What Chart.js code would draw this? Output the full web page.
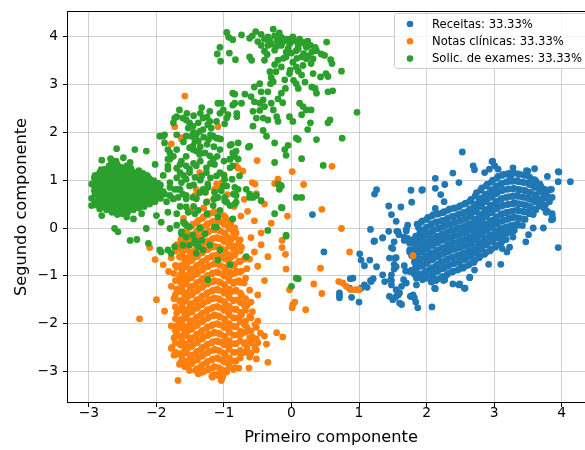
<!DOCTYPE html>
<html><head><meta charset="utf-8">
<script src="https://cdn.jsdelivr.net/npm/chart.js@4.4.1/dist/chart.umd.min.js"></script>
<style>html,body{margin:0;padding:0;background:#fff;overflow:hidden;width:585px;height:450px}canvas{display:block}</style>
</head><body>
<canvas id="c" width="600" height="450" style="width:600px;height:450px"></canvas>
<script>
const categories = ['Receitas: 33.33%', 'Notas clínicas: 33.33%', 'Solic. de exames: 33.33%'];
const seriesColors = ['#1f77b4', '#ff7f0e', '#2ca02c'];
const xTicks = [-3, -2, -1, 0, 1, 2, 3, 4];
const yTicks = [-3, -2, -1, 0, 1, 2, 3, 4];
const xLabel = 'Primeiro componente';
const yLabel = 'Segundo componente';

// Receitas (blue)
const receitas = [
[2.53,1.59],[2.97,1.39],[2.69,1.30],[2.71,1.22],[2.39,1.15],[2.13,1.04],[2.27,0.91],[2.48,0.95],[2.13,0.83],[1.26,0.80],[1.23,0.71],[1.77,0.79],[1.93,0.79],[2.21,0.70],[1.78,0.54],[2.26,0.55],[1.44,0.46],[1.62,0.44],[2.13,0.41],[0.31,0.28],[1.48,0.28],[1.55,0.14],[1.72,0.06],[1.88,0.01],[1.17,-0.03],[1.44,-0.07],[1.56,-0.07],[1.59,-0.14],[1.70,-0.06],[1.35,-0.20],[1.23,-0.27],[1.52,-0.29],[1.48,-0.41],[1.67,-0.26],[1.75,-0.46],[0.48,-0.50],[1.01,-0.54],[1.03,-0.67],[1.16,-0.67],[1.55,-0.62],[1.08,-0.79],[1.26,-0.81],[1.52,-0.76],[1.52,-0.86],[1.67,-0.79],[1.69,-0.90],[1.48,-0.98],[1.48,-1.10],[1.21,-1.06],[1.17,-1.10],[0.91,-1.05],[0.87,-1.06],[1.08,-1.19],[1.03,-1.26],[0.86,-1.26],[0.71,-1.36],[0.71,-1.41],[0.71,-1.46],[0.89,-1.45],[1.00,-1.55],[1.60,-1.36],[1.55,-1.43],[1.50,-1.50],[1.76,-1.43],[1.84,-1.55],[2.08,-1.65],[2.13,-1.27],[2.39,-1.17],[2.49,-1.17],[2.57,-1.26],[2.64,-1.04],[2.08,-1.12],[2.27,-1.08],[2.92,-0.76],[3.10,-0.76],[3.23,-0.40],[3.47,-0.29],[3.51,-0.14],[3.58,0.00],[3.73,0.00],[3.95,-0.41],[4.13,0.97],[3.95,1.18],[3.95,0.97],[3.79,1.08],[3.60,1.24],[3.50,1.19],[3.28,1.26],[3.24,1.06],[3.86,0.30],[3.85,0.17],[3.79,0.35],[3.75,0.81],[3.85,0.81],[3.67,0.88],
[1.22,-0.28],[1.35,-0.21],[1.12,-1.24],[1.18,-1.12],[1.35,-0.98],[1.38,-1.12],[1.47,-1.08],[1.48,-1.19],[1.55,-1.29],[1.53,-1.46],[1.45,-1.43],[1.58,-1.40],[1.63,-1.22],[1.70,-1.15],[1.66,-1.08],[1.80,-1.40],[1.77,-1.43],[1.82,-1.46],[1.85,-1.19],[1.85,-1.05],[1.75,-0.91],[1.82,-0.90],[1.45,-0.63],[1.53,-0.63],[1.55,-0.81],[1.50,-0.43],[1.67,-0.19],[1.72,-0.22],[1.75,-0.32],[1.70,-0.03],[1.58,-0.08],[1.75,-0.50],[1.90,-0.46],[1.87,-1.67],[1.60,-1.57],[1.63,-1.60],
[2.98,1.40],[3.01,1.30],[1.94,0.80],[2.86,1.16],[2.93,1.23],[3.06,1.23],[3.48,1.20],[3.96,1.17],[3.83,0.80],[3.86,0.64],[3.86,0.26],[3.77,0.33],[3.87,0.19],[3.28,-0.19],[2.71,-0.88],[2.64,-1.03],[2.51,-0.81],[2.56,-1.26],[2.48,-1.19],[2.12,-1.26],[2.07,-1.13],[2.25,-1.10],[3.12,-0.43],[3.19,-0.50],
[1.78,-0.25],[1.82,-0.42],[1.78,-0.58],[1.82,-0.71],[1.78,-0.88],[1.82,-0.97],
[1.86,0.08],[1.90,-0.10],[1.86,-0.27],[1.90,-0.40],[1.86,-0.55],[1.90,-0.68],[1.86,-0.83],[1.90,-1.00],
[1.94,0.15],[1.98,-0.02],[1.94,-0.18],[1.98,-0.33],[1.94,-0.47],[1.98,-0.62],[1.94,-0.78],[1.98,-0.92],[1.94,-1.08],
[2.02,0.22],[2.06,0.06],[2.02,-0.12],[2.06,-0.25],[2.02,-0.41],[2.06,-0.55],[2.02,-0.70],[2.06,-0.86],[2.02,-1.02],
[2.10,0.28],[2.14,0.12],[2.10,-0.05],[2.14,-0.20],[2.10,-0.34],[2.14,-0.49],[2.10,-0.64],[2.14,-0.80],[2.10,-0.95],[2.14,-1.10],
[2.18,0.30],[2.22,0.15],[2.18,0.00],[2.22,-0.15],[2.18,-0.28],[2.22,-0.43],[2.18,-0.58],[2.22,-0.72],[2.18,-0.88],[2.22,-1.04],
[2.26,0.34],[2.30,0.18],[2.26,0.04],[2.30,-0.10],[2.26,-0.24],[2.30,-0.39],[2.26,-0.52],[2.30,-0.67],[2.26,-0.83],[2.30,-0.98],
[2.34,0.40],[2.38,0.24],[2.34,0.08],[2.38,-0.06],[2.34,-0.20],[2.38,-0.33],[2.34,-0.47],[2.38,-0.62],[2.34,-0.77],[2.38,-0.92],
[2.42,0.42],[2.46,0.27],[2.42,0.12],[2.46,-0.02],[2.42,-0.16],[2.46,-0.30],[2.42,-0.44],[2.46,-0.58],[2.42,-0.73],[2.46,-0.88],
[2.50,0.47],[2.54,0.31],[2.50,0.16],[2.54,0.02],[2.50,-0.12],[2.54,-0.26],[2.50,-0.40],[2.54,-0.54],[2.50,-0.68],[2.54,-0.84],
[2.58,0.52],[2.62,0.36],[2.58,0.20],[2.62,0.06],[2.58,-0.08],[2.62,-0.22],[2.58,-0.36],[2.62,-0.50],[2.58,-0.64],[2.62,-0.78],
[2.66,0.60],[2.70,0.44],[2.66,0.28],[2.70,0.12],[2.66,-0.03],[2.70,-0.17],[2.66,-0.31],[2.70,-0.45],[2.66,-0.59],[2.70,-0.72],
[2.74,0.74],[2.78,0.57],[2.74,0.40],[2.78,0.24],[2.74,0.08],[2.78,-0.06],[2.74,-0.20],[2.78,-0.34],[2.74,-0.48],[2.78,-0.62],
[2.82,0.84],[2.86,0.67],[2.82,0.50],[2.86,0.34],[2.82,0.18],[2.86,0.03],[2.82,-0.11],[2.86,-0.25],[2.82,-0.40],[2.86,-0.55],
[2.90,0.92],[2.94,0.76],[2.90,0.60],[2.94,0.44],[2.90,0.28],[2.94,0.12],[2.90,-0.03],[2.94,-0.18],[2.90,-0.33],[2.94,-0.48],
[2.98,1.00],[3.02,0.84],[2.98,0.68],[3.02,0.52],[2.98,0.36],[3.02,0.20],[2.98,0.05],[3.02,-0.10],[2.98,-0.25],[3.02,-0.40],
[3.06,1.08],[3.10,0.92],[3.06,0.76],[3.10,0.60],[3.06,0.44],[3.10,0.28],[3.06,0.12],[3.10,-0.03],[3.06,-0.18],[3.10,-0.32],
[3.14,1.12],[3.18,0.96],[3.14,0.80],[3.18,0.64],[3.14,0.48],[3.18,0.32],[3.14,0.17],[3.18,0.02],[3.14,-0.12],[3.18,-0.24],
[3.22,1.14],[3.26,0.98],[3.22,0.82],[3.26,0.66],[3.22,0.50],[3.26,0.35],[3.22,0.20],[3.26,0.05],[3.22,-0.08],
[3.30,1.15],[3.34,0.99],[3.30,0.83],[3.34,0.68],[3.30,0.53],[3.34,0.38],[3.30,0.23],[3.34,0.08],[3.30,-0.05],
[3.38,1.12],[3.42,0.96],[3.38,0.80],[3.42,0.65],[3.38,0.50],[3.42,0.35],[3.38,0.20],[3.42,0.05],
[3.46,1.10],[3.50,0.94],[3.46,0.78],[3.50,0.63],[3.46,0.48],[3.50,0.33],[3.46,0.18],
[3.54,1.04],[3.58,0.88],[3.54,0.73],[3.58,0.58],[3.54,0.43],[3.58,0.28],
[3.62,0.98],[3.66,0.82],[3.62,0.67],[3.66,0.52],[3.62,0.38],
[3.70,0.86],[3.74,0.71],[3.70,0.56],[3.74,0.42],
[3.78,0.70],[3.82,0.55],
[1.84,-0.17],[1.84,-0.34],[1.84,-0.50],[1.84,-0.64],[1.84,-0.79],[1.84,-0.93],
[1.92,0.12],[1.92,-0.06],[1.92,-0.22],[1.92,-0.36],[1.92,-0.51],[1.92,-0.65],[1.92,-0.80],[1.92,-0.96],[1.92,-1.04],
[2.00,0.18],[2.00,0.02],[2.00,-0.15],[2.00,-0.29],[2.00,-0.44],[2.00,-0.58],[2.00,-0.74],[2.00,-0.89],[2.00,-1.05],
[2.08,0.25],[2.08,0.09],[2.08,-0.08],[2.08,-0.22],[2.08,-0.37],[2.08,-0.52],[2.08,-0.67],[2.08,-0.83],[2.08,-0.98],[2.08,-1.07],
[2.16,0.29],[2.16,0.13],[2.16,-0.02],[2.16,-0.17],[2.16,-0.31],[2.16,-0.46],[2.16,-0.61],[2.16,-0.76],[2.16,-0.91],[2.16,-1.07],
[2.24,0.32],[2.24,0.16],[2.24,0.02],[2.24,-0.12],[2.24,-0.26],[2.24,-0.41],[2.24,-0.55],[2.24,-0.70],[2.24,-0.85],[2.24,-1.01],
[2.32,0.37],[2.32,0.21],[2.32,0.06],[2.32,-0.08],[2.32,-0.22],[2.32,-0.36],[2.32,-0.50],[2.32,-0.64],[2.32,-0.80],[2.32,-0.95],
[2.40,0.41],[2.40,0.25],[2.40,0.10],[2.40,-0.04],[2.40,-0.18],[2.40,-0.31],[2.40,-0.45],[2.40,-0.60],[2.40,-0.75],[2.40,-0.90],
[2.48,0.44],[2.48,0.29],[2.48,0.14],[2.48,0.00],[2.48,-0.14],[2.48,-0.28],[2.48,-0.42],[2.48,-0.56],[2.48,-0.70],[2.48,-0.86],
[2.56,0.50],[2.56,0.33],[2.56,0.18],[2.56,0.04],[2.56,-0.10],[2.56,-0.24],[2.56,-0.38],[2.56,-0.52],[2.56,-0.66],[2.56,-0.81],
[2.64,0.56],[2.64,0.40],[2.64,0.24],[2.64,0.09],[2.64,-0.05],[2.64,-0.19],[2.64,-0.33],[2.64,-0.47],[2.64,-0.61],[2.64,-0.75],
[2.72,0.67],[2.72,0.50],[2.72,0.34],[2.72,0.18],[2.72,0.03],[2.72,-0.11],[2.72,-0.25],[2.72,-0.39],[2.72,-0.53],[2.72,-0.67],
[2.80,0.79],[2.80,0.62],[2.80,0.45],[2.80,0.29],[2.80,0.13],[2.80,-0.01],[2.80,-0.15],[2.80,-0.29],[2.80,-0.44],[2.80,-0.58],
[2.88,0.88],[2.88,0.71],[2.88,0.55],[2.88,0.39],[2.88,0.23],[2.88,0.08],[2.88,-0.07],[2.88,-0.21],[2.88,-0.36],[2.88,-0.51],
[2.96,0.96],[2.96,0.80],[2.96,0.64],[2.96,0.48],[2.96,0.32],[2.96,0.16],[2.96,0.01],[2.96,-0.14],[2.96,-0.29],[2.96,-0.44],
[3.04,1.04],[3.04,0.88],[3.04,0.72],[3.04,0.56],[3.04,0.40],[3.04,0.24],[3.04,0.08],[3.04,-0.06],[3.04,-0.21],[3.04,-0.36],
[3.12,1.10],[3.12,0.94],[3.12,0.78],[3.12,0.62],[3.12,0.46],[3.12,0.30],[3.12,0.14],[3.12,-0.01],[3.12,-0.15],[3.12,-0.28],
[3.20,1.13],[3.20,0.97],[3.20,0.81],[3.20,0.65],[3.20,0.49],[3.20,0.33],[3.20,0.18],[3.20,0.03],[3.20,-0.10],
[3.28,1.14],[3.28,0.98],[3.28,0.82],[3.28,0.67],[3.28,0.51],[3.28,0.36],[3.28,0.21],[3.28,0.06],[3.28,-0.06],
[3.36,1.13],[3.36,0.97],[3.36,0.81],[3.36,0.66],[3.36,0.51],[3.36,0.36],[3.36,0.21],[3.36,0.06],
[3.44,1.11],[3.44,0.95],[3.44,0.79],[3.44,0.64],[3.44,0.49],[3.44,0.34],[3.44,0.19],
[3.52,1.07],[3.52,0.91],[3.52,0.75],[3.52,0.60],[3.52,0.45],[3.52,0.30],
[3.60,1.01],[3.60,0.85],[3.60,0.70],[3.60,0.55],[3.60,0.40],
[3.68,0.92],[3.68,0.76],[3.68,0.61],[3.68,0.46],
[3.76,0.78],[3.76,0.63],[3.76,0.48]
];

// Notas clínicas (orange)
const notasClinicas = [
[-1.58,2.76],[-1.78,1.76],[-1.73,2.12],[-1.09,2.12],[-1.62,1.89],[-0.51,1.41],[0.01,1.18],[0.60,1.29],[0.18,0.91],[-0.20,1.02],[-0.25,0.93],[-0.58,0.95],[-0.54,0.92],[-0.52,0.72],[-0.82,1.30],[-0.79,1.25],[-0.72,1.19],[-1.00,1.11],[-1.11,0.92],[-1.06,0.85],[-1.14,0.81],[-1.36,1.16],[-1.41,0.81],[-1.43,0.68],[-1.63,1.86],[-1.03,0.95],[-1.27,0.75],[-1.41,0.64],[0.45,0.39],[0.74,-0.01],[0.86,-0.50],[0.43,-0.84],[0.33,-1.17],[0.45,-1.37],[0.70,-1.12],[0.76,-1.15],[0.81,-1.22],[0.88,-1.29],[0.95,-1.29],[1.00,-1.29],[1.80,-0.58],[-0.06,0.25],[-0.14,-0.26],[-0.14,-0.41],[-0.09,-0.55],[-0.08,-0.86],[-0.03,-1.29],[0.05,-1.55],[0.02,-1.60],[0.01,-1.67],[0.21,-1.71],[-2.10,-0.41],[-2.02,-0.66],[-1.90,-0.77],[-1.82,-0.91],[-1.68,-3.19],[-1.04,-3.19],[-1.06,-3.08],[-0.96,-3.01],[-1.17,-3.12],[-1.51,-2.98],[-1.36,-2.94],[-0.78,-2.93],[-0.63,-2.93],[-0.35,-2.81],[-0.22,-2.19],[-0.13,-2.28],[-0.40,-2.26],[-0.52,-2.74],[-0.37,-2.43],[-1.73,-2.29],[-1.77,-2.50],[-1.70,-2.64],[-1.70,-2.05],[-2.25,-1.90],[-2.00,-1.50],[-1.88,-1.74],
[-1.25,0.55],[-1.15,0.62],[-0.95,0.70],[-0.85,0.45],[-0.70,0.60],[-0.65,0.35],[-0.55,0.15],[-0.75,0.25],[-1.30,0.42],[-1.50,0.35],[-1.60,0.20],[-0.45,-0.10],[-0.60,-0.20],[-0.55,-0.50],[-0.50,-0.80],[-0.45,-0.35],[-0.62,-0.65],[-0.40,-1.10],[-0.50,-1.40],[-0.35,-0.60],[-0.30,0.10],[-0.40,0.50],
[-1.78,-0.62],[-1.74,-0.95],[-1.78,-1.22],[-1.74,-1.48],[-1.78,-2.05],[-1.74,-2.30],[-1.78,-2.52],[-1.74,-2.66],
[-1.70,-0.35],[-1.66,-0.60],[-1.70,-0.82],[-1.66,-1.05],[-1.70,-1.28],[-1.66,-1.52],[-1.70,-1.78],[-1.66,-1.98],[-1.70,-2.20],[-1.66,-2.42],[-1.70,-2.62],[-1.66,-2.85],
[-1.62,-0.15],[-1.58,-0.34],[-1.62,-0.52],[-1.58,-0.70],[-1.62,-0.88],[-1.58,-1.06],[-1.62,-1.24],[-1.58,-1.42],[-1.62,-1.62],[-1.58,-1.82],[-1.62,-2.00],[-1.58,-2.18],[-1.62,-2.36],[-1.58,-2.54],[-1.62,-2.72],[-1.58,-2.90],
[-1.54,0.00],[-1.50,-0.18],[-1.54,-0.36],[-1.50,-0.54],[-1.54,-0.72],[-1.50,-0.90],[-1.54,-1.08],[-1.50,-1.26],[-1.54,-1.44],[-1.50,-1.62],[-1.54,-1.80],[-1.50,-1.98],[-1.54,-2.16],[-1.50,-2.34],[-1.54,-2.52],[-1.50,-2.70],[-1.54,-2.88],
[-1.46,0.08],[-1.42,-0.10],[-1.46,-0.28],[-1.42,-0.46],[-1.46,-0.64],[-1.42,-0.82],[-1.46,-1.00],[-1.42,-1.18],[-1.46,-1.36],[-1.42,-1.54],[-1.46,-1.72],[-1.42,-1.90],[-1.46,-2.08],[-1.42,-2.26],[-1.46,-2.44],[-1.42,-2.62],[-1.46,-2.80],[-1.42,-2.98],
[-1.38,0.16],[-1.34,-0.02],[-1.38,-0.20],[-1.34,-0.38],[-1.38,-0.56],[-1.34,-0.74],[-1.38,-0.92],[-1.34,-1.10],[-1.38,-1.28],[-1.34,-1.46],[-1.38,-1.64],[-1.34,-1.82],[-1.38,-2.00],[-1.34,-2.18],[-1.38,-2.36],[-1.34,-2.54],[-1.38,-2.72],[-1.34,-2.90],[-1.38,-3.05],
[-1.30,0.24],[-1.26,0.06],[-1.30,-0.12],[-1.26,-0.30],[-1.30,-0.48],[-1.26,-0.66],[-1.30,-0.84],[-1.26,-1.02],[-1.30,-1.20],[-1.26,-1.38],[-1.30,-1.56],[-1.26,-1.74],[-1.30,-1.92],[-1.26,-2.10],[-1.30,-2.28],[-1.26,-2.46],[-1.30,-2.64],[-1.26,-2.82],[-1.30,-3.00],
[-1.22,0.30],[-1.18,0.12],[-1.22,-0.06],[-1.18,-0.24],[-1.22,-0.42],[-1.18,-0.60],[-1.22,-0.78],[-1.18,-0.96],[-1.22,-1.14],[-1.18,-1.32],[-1.22,-1.50],[-1.18,-1.68],[-1.22,-1.86],[-1.18,-2.04],[-1.22,-2.22],[-1.18,-2.40],[-1.22,-2.58],[-1.18,-2.76],[-1.22,-2.94],[-1.18,-3.10],
[-1.14,0.34],[-1.10,0.16],[-1.14,-0.02],[-1.10,-0.20],[-1.14,-0.38],[-1.10,-0.56],[-1.14,-0.74],[-1.10,-0.92],[-1.14,-1.10],[-1.10,-1.28],[-1.14,-1.46],[-1.10,-1.64],[-1.14,-1.82],[-1.10,-2.00],[-1.14,-2.18],[-1.10,-2.36],[-1.14,-2.54],[-1.10,-2.72],[-1.14,-2.90],[-1.10,-3.06],
[-1.06,0.30],[-1.02,0.12],[-1.06,-0.06],[-1.02,-0.24],[-1.06,-0.42],[-1.02,-0.60],[-1.06,-0.78],[-1.02,-0.96],[-1.06,-1.14],[-1.02,-1.32],[-1.06,-1.50],[-1.02,-1.68],[-1.06,-1.86],[-1.02,-2.04],[-1.06,-2.22],[-1.02,-2.40],[-1.06,-2.58],[-1.02,-2.76],[-1.06,-2.94],[-1.02,-3.12],
[-0.98,0.22],[-0.94,0.04],[-0.98,-0.14],[-0.94,-0.32],[-0.98,-0.50],[-0.94,-0.68],[-0.98,-0.86],[-0.94,-1.04],[-0.98,-1.22],[-0.94,-1.40],[-0.98,-1.58],[-0.94,-1.76],[-0.98,-1.94],[-0.94,-2.12],[-0.98,-2.30],[-0.94,-2.48],[-0.98,-2.66],[-0.94,-2.84],[-0.98,-3.02],
[-0.90,0.10],[-0.86,-0.08],[-0.90,-0.26],[-0.86,-0.44],[-0.90,-0.62],[-0.86,-0.80],[-0.90,-0.98],[-0.86,-1.16],[-0.90,-1.34],[-0.86,-1.52],[-0.90,-1.70],[-0.86,-1.88],[-0.90,-2.06],[-0.86,-2.24],[-0.90,-2.42],[-0.86,-2.60],[-0.90,-2.78],[-0.86,-2.96],
[-0.82,-0.10],[-0.78,-0.30],[-0.82,-0.50],[-0.78,-0.70],[-0.82,-0.90],[-0.78,-1.10],[-0.82,-1.30],[-0.78,-1.50],[-0.82,-1.70],[-0.78,-1.88],[-0.82,-2.06],[-0.78,-2.24],[-0.82,-2.42],[-0.78,-2.60],[-0.82,-2.78],
[-0.74,-0.40],[-0.70,-0.65],[-0.74,-0.90],[-0.70,-1.15],[-0.74,-1.40],[-0.70,-1.62],[-0.74,-1.82],[-0.70,-2.02],[-0.74,-2.22],[-0.70,-2.42],[-0.74,-2.62],
[-0.66,-0.85],[-0.62,-1.30],[-0.66,-1.62],[-0.62,-1.85],[-0.66,-2.08],[-0.62,-2.30],[-0.66,-2.52],[-0.62,-2.70],
[-0.58,-1.75],[-0.54,-2.02],[-0.58,-2.28],[-0.54,-2.50],
[-0.50,-1.95],[-0.46,-2.20],[-0.50,-2.40],
[-1.72,-0.48],[-1.72,-0.78],[-1.72,-1.10],[-1.72,-1.40],[-1.72,-1.65],[-1.72,-1.90],[-1.72,-2.15],[-1.72,-2.40],[-1.72,-2.60],
[-1.64,-0.25],[-1.64,-0.43],[-1.64,-0.61],[-1.64,-0.79],[-1.64,-0.97],[-1.64,-1.15],[-1.64,-1.33],[-1.64,-1.52],[-1.64,-1.72],[-1.64,-1.91],[-1.64,-2.09],[-1.64,-2.27],[-1.64,-2.45],[-1.64,-2.63],[-1.64,-2.81],
[-1.56,-0.08],[-1.56,-0.27],[-1.56,-0.45],[-1.56,-0.63],[-1.56,-0.81],[-1.56,-0.99],[-1.56,-1.17],[-1.56,-1.35],[-1.56,-1.53],[-1.56,-1.71],[-1.56,-1.89],[-1.56,-2.07],[-1.56,-2.25],[-1.56,-2.43],[-1.56,-2.61],[-1.56,-2.79],
[-1.48,0.04],[-1.48,-0.14],[-1.48,-0.32],[-1.48,-0.50],[-1.48,-0.68],[-1.48,-0.86],[-1.48,-1.04],[-1.48,-1.22],[-1.48,-1.40],[-1.48,-1.58],[-1.48,-1.76],[-1.48,-1.94],[-1.48,-2.12],[-1.48,-2.30],[-1.48,-2.48],[-1.48,-2.66],[-1.48,-2.84],
[-1.40,0.12],[-1.40,-0.06],[-1.40,-0.24],[-1.40,-0.42],[-1.40,-0.60],[-1.40,-0.78],[-1.40,-0.96],[-1.40,-1.14],[-1.40,-1.32],[-1.40,-1.50],[-1.40,-1.68],[-1.40,-1.86],[-1.40,-2.04],[-1.40,-2.22],[-1.40,-2.40],[-1.40,-2.58],[-1.40,-2.76],[-1.40,-2.94],
[-1.32,0.20],[-1.32,0.02],[-1.32,-0.16],[-1.32,-0.34],[-1.32,-0.52],[-1.32,-0.70],[-1.32,-0.88],[-1.32,-1.06],[-1.32,-1.24],[-1.32,-1.42],[-1.32,-1.60],[-1.32,-1.78],[-1.32,-1.96],[-1.32,-2.14],[-1.32,-2.32],[-1.32,-2.50],[-1.32,-2.68],[-1.32,-2.86],[-1.32,-3.02],
[-1.24,0.27],[-1.24,0.09],[-1.24,-0.09],[-1.24,-0.27],[-1.24,-0.45],[-1.24,-0.63],[-1.24,-0.81],[-1.24,-0.99],[-1.24,-1.17],[-1.24,-1.35],[-1.24,-1.53],[-1.24,-1.71],[-1.24,-1.89],[-1.24,-2.07],[-1.24,-2.25],[-1.24,-2.43],[-1.24,-2.61],[-1.24,-2.79],[-1.24,-2.97],
[-1.16,0.32],[-1.16,0.14],[-1.16,-0.04],[-1.16,-0.22],[-1.16,-0.40],[-1.16,-0.58],[-1.16,-0.76],[-1.16,-0.94],[-1.16,-1.12],[-1.16,-1.30],[-1.16,-1.48],[-1.16,-1.66],[-1.16,-1.84],[-1.16,-2.02],[-1.16,-2.20],[-1.16,-2.38],[-1.16,-2.56],[-1.16,-2.74],[-1.16,-2.92],[-1.16,-3.08],
[-1.08,0.32],[-1.08,0.14],[-1.08,-0.04],[-1.08,-0.22],[-1.08,-0.40],[-1.08,-0.58],[-1.08,-0.76],[-1.08,-0.94],[-1.08,-1.12],[-1.08,-1.30],[-1.08,-1.48],[-1.08,-1.66],[-1.08,-1.84],[-1.08,-2.02],[-1.08,-2.20],[-1.08,-2.38],[-1.08,-2.56],[-1.08,-2.74],[-1.08,-2.92],[-1.08,-3.09],
[-1.00,0.26],[-1.00,0.08],[-1.00,-0.10],[-1.00,-0.28],[-1.00,-0.46],[-1.00,-0.64],[-1.00,-0.82],[-1.00,-1.00],[-1.00,-1.18],[-1.00,-1.36],[-1.00,-1.54],[-1.00,-1.72],[-1.00,-1.90],[-1.00,-2.08],[-1.00,-2.26],[-1.00,-2.44],[-1.00,-2.62],[-1.00,-2.80],[-1.00,-2.98],
[-0.92,0.16],[-0.92,-0.02],[-0.92,-0.20],[-0.92,-0.38],[-0.92,-0.56],[-0.92,-0.74],[-0.92,-0.92],[-0.92,-1.10],[-0.92,-1.28],[-0.92,-1.46],[-0.92,-1.64],[-0.92,-1.82],[-0.92,-2.00],[-0.92,-2.18],[-0.92,-2.36],[-0.92,-2.54],[-0.92,-2.72],[-0.92,-2.90],
[-0.84,0.00],[-0.84,-0.19],[-0.84,-0.38],[-0.84,-0.57],[-0.84,-0.76],[-0.84,-0.95],[-0.84,-1.13],[-0.84,-1.32],[-0.84,-1.51],[-0.84,-1.70],[-0.84,-1.88],[-0.84,-2.06],[-0.84,-2.24],[-0.84,-2.42],[-0.84,-2.60],[-0.84,-2.78],[-0.84,-2.92],
[-0.76,-0.25],[-0.76,-0.48],[-0.76,-0.70],[-0.76,-0.92],[-0.76,-1.14],[-0.76,-1.36],[-0.76,-1.56],[-0.76,-1.76],[-0.76,-1.96],[-0.76,-2.16],[-0.76,-2.36],[-0.76,-2.56],[-0.76,-2.72],
[-0.68,-0.62],[-0.68,-1.05],[-0.68,-1.48],[-0.68,-1.72],[-0.68,-1.95],[-0.68,-2.18],[-0.68,-2.40],[-0.68,-2.60],
[-0.60,-1.55],[-0.60,-1.88],[-0.60,-2.15],[-0.60,-2.40],[-0.60,-2.62],
[-0.52,-2.08],[-0.52,-2.32],[-0.52,-2.55]
];

// Solic. de exames (green)
const solicExames = [
[-0.96,4.09],[-0.93,3.99],[-0.87,3.94],[-0.74,4.04],[-0.62,3.97],[-0.53,4.11],[-0.50,3.90],[-0.40,3.95],[-0.32,3.92],[-0.27,4.16],[-0.25,4.02],[-0.21,3.92],[-0.15,3.99],[-0.13,3.89],[-0.05,3.95],[-0.03,3.85],[0.05,3.92],[0.10,3.82],[0.17,3.89],[0.22,3.78],[0.24,3.91],[0.07,3.71],[0.00,3.66],[-0.08,3.68],[-0.15,3.82],[-0.22,3.80],[-0.35,3.82],[-0.40,3.70],[-0.36,3.63],[0.37,3.71],[0.44,3.64],[0.52,3.89],[0.49,3.61],[0.58,3.52],[0.60,3.44],[0.74,3.28],[0.32,3.54],[0.22,3.54],[0.15,3.58],[0.29,3.44],[0.17,3.40],[0.07,3.37],[0.02,3.47],[-0.08,3.58],[-0.20,3.51],[-0.25,3.42],[-0.15,3.37],[-0.32,3.27],[-0.23,3.27],[-1.06,3.78],[-1.10,3.64],[-1.05,3.49],[-0.92,3.66],[-0.83,3.52],[-0.62,3.58],[-0.59,3.51],[-0.40,3.51],
[-0.58,4.02],[-0.45,4.05],[-0.35,4.00],[-0.30,3.85],[-0.18,4.08],[-0.10,3.95],[0.00,3.90],[0.02,4.00],[0.12,3.95],[0.20,3.85],[0.28,3.82],[0.10,3.75],[-0.05,3.75],[-0.25,3.72],[0.30,3.68],[0.18,3.65],[-0.45,3.82],[0.35,3.78],[-0.12,3.55],[0.08,3.55],[0.25,3.60],[-0.02,3.30],[0.10,3.28],[-0.30,3.15],[-0.10,3.10],[0.20,3.05],[0.30,2.95],[-0.45,2.85],[-0.60,2.75],[-0.20,2.70],
[-0.03,3.23],[0.03,3.09],[0.07,3.02],[0.15,3.20],[0.32,3.23],[0.43,3.16],[0.51,3.23],[0.54,3.17],[0.61,2.87],[0.54,2.85],[0.35,2.92],[0.37,2.82],[0.10,2.92],[-0.09,2.92],[-0.15,2.82],[-0.27,3.06],[-0.31,3.02],[-0.35,2.85],[-0.47,3.02],[-0.55,2.95],[-0.69,2.80],[-0.87,2.82],[-0.84,2.80],[-0.84,2.61],[-0.81,2.40],[-0.74,2.61],[-0.55,2.64],[-0.47,2.61],[-0.42,2.68],[-0.40,2.54],[-0.30,2.61],[-0.27,2.47],[-0.47,2.46],[-0.57,2.44],[-0.52,2.30],[-0.42,2.30],[-0.35,2.26],[-0.22,2.33],[-0.20,2.23],[-0.13,2.62],[0.12,2.61],[0.17,2.54],[0.22,2.47],[0.29,2.47],[-0.03,2.33],[0.02,2.23],[0.15,2.37],[0.28,2.20],[0.24,2.06],[0.37,1.85],[0.57,2.26],[0.54,2.20],[0.97,2.42],[0.75,1.88],[0.47,1.31],[0.10,1.85],[0.07,1.88],[-0.05,1.73],[-0.10,1.64],[-0.08,1.52],[0.15,1.45],[-0.25,1.78],[-0.37,1.92],[-0.42,2.04],[-0.57,2.13],[-0.62,1.71],[-0.64,1.69],[-0.91,1.73],[-0.87,1.57],[-0.91,1.44],[-0.84,1.50],[-0.79,1.78],[-0.94,2.37],[-0.81,2.33],[-0.96,2.30],[-1.01,2.47],[-0.99,2.18],[-1.06,2.40],[-0.87,2.57],[-0.25,1.37],[0.15,0.64],[-0.20,0.92],[-0.17,0.90],
[-1.33,2.52],[-1.21,2.44],[-1.66,2.47],[-1.70,2.33],[-1.75,2.20],[-1.73,2.30],[-1.61,2.30],[-1.56,2.26],[-1.51,2.20],[-1.53,2.09],[-1.46,2.13],[-1.38,2.20],[-1.31,2.30],[-1.36,2.02],[-1.31,2.06],[-1.24,2.16],[-1.19,2.09],[-1.11,2.23],[-1.09,2.61],[-1.04,2.61],[-1.21,2.23],[-1.16,1.92],[-1.09,1.88],[-1.05,1.86],[-1.41,1.95],[-1.48,1.92],[-1.56,1.92],[-1.43,1.81],[-1.51,1.68],[-1.46,1.64],[-1.41,1.61],[-1.36,1.54],[-1.28,1.57],[-1.21,1.51],[-1.16,1.44],[-1.14,1.33],[-1.06,1.64],[-1.06,1.16],[-1.11,1.09],[-1.26,1.26],[-1.33,1.09],[-1.43,1.06],[-1.51,1.16],[-1.56,1.30],[-1.63,1.40],[-1.70,1.64],[-1.83,1.64],[-1.88,1.95],[-1.90,1.92],[-1.80,1.44],[-1.83,1.23],[-1.63,0.95],[-1.56,1.02],[-1.51,0.88],[-1.31,0.81],[-1.24,0.92],[-1.14,0.75],[-1.04,0.78],[-0.96,0.88],[-0.91,1.26],[-0.87,1.30],[-0.79,1.44],[-0.77,1.09],[-0.88,1.02],[-0.84,0.85],[-0.79,0.81],[-0.82,0.68],[-0.67,0.81],[-0.62,0.71],[-0.57,0.64],[-0.45,0.57],[-1.73,0.81],[-1.75,0.61],[-2.02,1.33],
[-1.55,2.40],[-1.45,2.35],[-1.35,2.40],[-1.25,2.32],[-1.45,2.00],[-1.30,1.90],[-1.20,1.95],[-1.25,1.75],[-1.15,1.70],[-1.35,1.70],[-1.60,1.80],[-1.70,1.95],[-1.75,1.50],[-1.70,1.25],[-1.60,1.10],[-1.45,1.35],[-1.35,1.40],[-1.20,1.35],[-1.10,1.50],[-1.00,1.40],[-1.45,0.90],[-1.35,1.00],[-1.20,1.05],[-1.00,1.10],[-1.70,1.05],[-1.80,0.95],[-1.90,1.10],[-1.85,0.55],[-1.65,0.45],[-1.45,0.45],[-1.25,0.30],[-1.15,0.60],
[-2.59,1.66],[-2.32,1.64],[-2.15,1.61],[-2.81,1.42],[-2.66,1.40],[-2.49,1.47],[-2.39,1.37],[-2.96,0.47],[-2.84,0.40],[-2.81,0.26],[-2.62,-0.01],[-2.57,-0.08],[-2.39,-0.26],[-2.29,-0.24],[-2.12,-0.32],[-1.95,-0.46],[-2.15,-0.01],[-2.44,0.23],[-2.34,0.19],[-2.22,0.30],[-2.00,0.26],[-1.93,0.12],[-1.88,0.71],[-1.80,0.68],[-1.75,0.61],[-1.83,0.33],[-1.70,0.30],[-1.68,0.64],[-1.65,0.81],[-1.56,0.68],[-1.56,0.44],[-1.53,0.33],[-1.43,0.30],[-1.38,0.37],[-1.41,0.61],[-1.28,0.75],[-1.26,0.54],[-1.16,0.47],[-1.11,0.64],[-0.99,0.64],[-0.96,0.54],[-0.86,0.71],[-0.84,0.50],[-1.01,0.88],[-0.99,1.02],[-0.89,1.75],[-0.82,1.61],[-0.91,1.44],[-1.11,1.88],[-1.23,1.85],[-1.38,1.82],[-1.46,1.71],[-1.56,1.50],[-1.65,1.33],[-1.65,1.16],[-1.83,1.30],[-1.83,1.44],[-1.80,1.57],[-1.88,1.78],[-1.95,1.92],[-1.51,1.23],[-1.41,1.30],[-1.36,1.57],[-1.26,1.16],[-1.60,0.12],[-1.56,0.06],[-1.63,-0.08],[-1.36,0.00],[-1.43,-0.26],[-1.38,-0.39],[-1.31,-0.46],[-1.14,0.02],[-1.09,0.23],[-1.06,0.37],
[-2.05,0.81],[-1.95,0.78],[-1.80,0.85],[-1.68,0.81],[-1.61,0.71],[-1.56,0.61],[-1.46,0.64],[-1.36,0.74],[-1.28,0.81],[-1.24,0.85],[-1.09,0.64],[-0.99,0.57],[-0.91,0.47],[-0.82,0.54],[-0.87,0.19],[-0.62,0.64],[-0.52,0.68],[-0.15,0.88],[-0.18,0.81],[0.07,0.64],[-0.15,0.43],[-0.25,0.30],[-0.35,-0.05],[-0.08,-0.15],[-1.80,-0.01],[-1.70,0.06],[-1.58,0.09],[-1.51,0.02],[-1.63,-0.12],[-1.56,-0.19],[-1.46,-0.15],[-1.41,-0.33],[-1.33,-0.26],[-1.28,-0.12],[-1.21,-0.36],[-1.11,0.02],[-1.06,-0.46],[-1.09,-0.67],[-0.91,-0.77],[-0.67,-0.60],[-1.24,-1.08],[-1.93,-0.50],[-1.83,-0.46],[-1.78,-0.53],[0.07,-1.05],[0.00,-1.22],[-1.61,-0.36],[-1.51,-0.36],[-1.41,-0.53],[-1.73,-0.39],[-0.14,0.42],[-0.08,-0.17],[0.10,-1.06],
[-2.96,0.62],[-2.92,0.78],[-2.96,0.92],[-2.92,1.05],
[-2.89,0.48],[-2.85,0.62],[-2.89,0.75],[-2.85,0.88],[-2.89,1.01],[-2.85,1.12],
[-2.82,0.45],[-2.78,0.58],[-2.82,0.71],[-2.78,0.84],[-2.82,0.97],[-2.78,1.10],[-2.82,1.22],
[-2.74,0.38],[-2.70,0.52],[-2.74,0.65],[-2.70,0.78],[-2.74,0.91],[-2.70,1.04],[-2.74,1.17],[-2.70,1.30],
[-2.66,0.33],[-2.62,0.46],[-2.66,0.59],[-2.62,0.72],[-2.66,0.85],[-2.62,0.98],[-2.66,1.11],[-2.62,1.24],[-2.66,1.37],
[-2.58,0.28],[-2.54,0.42],[-2.58,0.55],[-2.54,0.68],[-2.58,0.81],[-2.54,0.94],[-2.58,1.07],[-2.54,1.20],[-2.58,1.33],
[-2.50,0.30],[-2.46,0.44],[-2.50,0.57],[-2.46,0.70],[-2.50,0.83],[-2.46,0.96],[-2.50,1.09],[-2.46,1.22],
[-2.42,0.34],[-2.38,0.47],[-2.42,0.60],[-2.38,0.73],[-2.42,0.86],[-2.38,0.99],[-2.42,1.12],[-2.38,1.25],
[-2.34,0.38],[-2.30,0.51],[-2.34,0.64],[-2.30,0.77],[-2.34,0.90],[-2.30,1.03],[-2.34,1.16],
[-2.26,0.42],[-2.22,0.55],[-2.26,0.68],[-2.22,0.81],[-2.26,0.94],[-2.22,1.07],[-2.26,1.20],
[-2.18,0.45],[-2.14,0.58],[-2.18,0.71],[-2.14,0.84],[-2.18,0.97],[-2.14,1.10],
[-2.10,0.50],[-2.06,0.63],[-2.10,0.76],[-2.06,0.89],[-2.10,1.02],
[-2.02,0.55],[-1.98,0.68],[-2.02,0.81],[-1.98,0.94],
[-1.94,0.62],[-1.90,0.76],[-1.94,0.90],
[-2.91,0.55],[-2.91,0.70],[-2.91,0.85],[-2.91,0.98],[-2.91,1.10],
[-2.84,0.52],[-2.84,0.65],[-2.84,0.78],[-2.84,0.91],[-2.84,1.04],[-2.84,1.16],
[-2.76,0.45],[-2.76,0.58],[-2.76,0.71],[-2.76,0.84],[-2.76,0.97],[-2.76,1.10],[-2.76,1.23],
[-2.68,0.40],[-2.68,0.53],[-2.68,0.66],[-2.68,0.79],[-2.68,0.92],[-2.68,1.05],[-2.68,1.18],[-2.68,1.31],[-2.68,1.45],
[-2.60,0.35],[-2.60,0.48],[-2.60,0.61],[-2.60,0.74],[-2.60,0.87],[-2.60,1.00],[-2.60,1.13],[-2.60,1.26],[-2.60,1.40],
[-2.52,0.36],[-2.52,0.49],[-2.52,0.62],[-2.52,0.75],[-2.52,0.88],[-2.52,1.01],[-2.52,1.14],[-2.52,1.27],
[-2.44,0.38],[-2.44,0.51],[-2.44,0.64],[-2.44,0.77],[-2.44,0.90],[-2.44,1.03],[-2.44,1.16],[-2.44,1.30],
[-2.36,0.41],[-2.36,0.54],[-2.36,0.67],[-2.36,0.80],[-2.36,0.93],[-2.36,1.06],[-2.36,1.19],
[-2.28,0.45],[-2.28,0.58],[-2.28,0.71],[-2.28,0.84],[-2.28,0.97],[-2.28,1.10],
[-2.20,0.49],[-2.20,0.62],[-2.20,0.75],[-2.20,0.88],[-2.20,1.01],[-2.20,1.14],
[-2.12,0.54],[-2.12,0.67],[-2.12,0.80],[-2.12,0.93],[-2.12,1.06],
[-2.04,0.60],[-2.04,0.73],[-2.04,0.86],[-2.04,0.99],
[-1.96,0.70],[-1.96,0.83]
];

const toPts = a => a.map(p => ({x: p[0], y: p[1]}));
const fmt = v => (v < 0 ? '\u2212' : '') + Math.abs(v);
const FONT = 'DejaVu Sans';

const framePlugin = {
  id: 'frame',
  afterDraw(chart) {
    const {ctx, chartArea: a} = chart;
    ctx.save();
    ctx.strokeStyle = '#000';
    ctx.lineWidth = 1;
    ctx.strokeRect(Math.round(a.left) - 0.5, Math.round(a.top) - 0.5, Math.round(a.right - a.left) + 1, Math.round(a.bottom - a.top) + 1);
    ctx.restore();
  }
};

const legendPlugin = {
  id: 'mplLegend',
  afterDraw(chart) {
    const {ctx, chartArea: a} = chart;
    const x0 = 394.5, y0 = 13.5, w = a.right - 6 - x0, h = 55, r = 3;
    ctx.save();
    ctx.beginPath();
    ctx.moveTo(x0 + r, y0);
    ctx.lineTo(x0 + w - r, y0); ctx.arcTo(x0 + w, y0, x0 + w, y0 + r, r);
    ctx.lineTo(x0 + w, y0 + h - r); ctx.arcTo(x0 + w, y0 + h, x0 + w - r, y0 + h, r);
    ctx.lineTo(x0 + r, y0 + h); ctx.arcTo(x0, y0 + h, x0, y0 + h - r, r);
    ctx.lineTo(x0, y0 + r); ctx.arcTo(x0, y0, x0 + r, y0, r);
    ctx.closePath();
    ctx.fillStyle = 'rgba(255,255,255,0.8)';
    ctx.fill();
    ctx.strokeStyle = '#cccccc';
    ctx.lineWidth = 1;
    ctx.stroke();
    const rows = [24, 41.3, 58.6];
    ctx.font = '11.6px "' + FONT + '"';
    ctx.textBaseline = 'middle';
    ctx.textAlign = 'left';
    categories.forEach((c, i) => {
      ctx.beginPath();
      ctx.arc(410, rows[i], 3.3, 0, Math.PI * 2);
      ctx.fillStyle = seriesColors[i];
      ctx.fill();
      ctx.fillStyle = '#000';
      ctx.fillText(c, 432, rows[i] + 0.5);
    });
    ctx.restore();
  }
};

const gridColor = 'rgba(176,176,176,0.6)';

new Chart(document.getElementById('c'), {
  type: 'scatter',
  data: {
    datasets: [
      {label: categories[0], data: toPts(receitas), backgroundColor: seriesColors[0], order: 3},
      {label: categories[1], data: toPts(notasClinicas), backgroundColor: seriesColors[1], order: 2},
      {label: categories[2], data: toPts(solicExames), backgroundColor: seriesColors[2], order: 1}
    ]
  },
  options: {
    responsive: false,
    animation: false,
    devicePixelRatio: 1,
    events: [],
    layout: {padding: {left: 0, right: 6, top: 8, bottom: 0}},
    elements: {point: {radius: 3.4, borderWidth: 0, hoverRadius: 3.4}},
    plugins: {legend: {display: false}, tooltip: {enabled: false}},
    scales: {
      x: {
        type: 'linear', min: -3.31, max: 4.48,
        afterBuildTicks: s => { s.ticks = xTicks.map(v => ({value: v})); },
        afterFit: s => { s.height = 48; },
        grid: {color: gridColor, lineWidth: 1, drawTicks: true, tickLength: 5, tickColor: '#000', tickWidth: 1},
        border: {display: false},
        ticks: {color: '#000', font: {family: FONT, size: 13.9, lineHeight: 1}, padding: -1, maxRotation: 0, autoSkip: false, callback: v => fmt(v)},
        title: {display: true, text: xLabel, color: '#000', font: {family: FONT, size: 16.2, lineHeight: 1.2}, padding: {top: 0, bottom: 2}}
      },
      y: {
        type: 'linear', min: -3.64, max: 4.52,
        afterBuildTicks: s => { s.ticks = yTicks.map(v => ({value: v})); },
        afterFit: s => { s.width = 68; },
        grid: {color: gridColor, lineWidth: 1, drawTicks: true, tickLength: 5, tickColor: '#000', tickWidth: 1},
        border: {display: false},
        ticks: {color: '#000', font: {family: FONT, size: 13.9, lineHeight: 1}, padding: 5, autoSkip: false, callback: v => fmt(v)},
        title: {display: true, text: yLabel, color: '#000', font: {family: FONT, size: 16.2, lineHeight: 1.2}, padding: {top: 12, bottom: 0}}
      }
    }
  },
  plugins: [framePlugin, legendPlugin]
});
</script>
</body></html>
